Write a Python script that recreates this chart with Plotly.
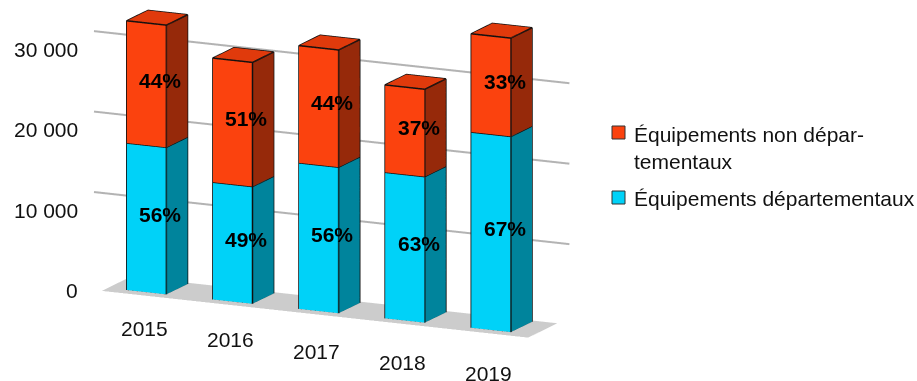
import plotly.graph_objects as go

years = ["2015", "2016", "2017", "2018", "2019"]
dept = [18270, 14570, 18150, 18150, 24320]
non_dept = [15190, 15430, 14570, 10860, 12220]
pct_dept = ["56%", "49%", "56%", "63%", "67%"]
pct_non = ["44%", "51%", "44%", "37%", "33%"]
z_ticks = [0, 10000, 20000, 30000]
z_tick_labels = ["0", "10 000", "20 000", "30 000"]
series_dept = "Équipements départementaux"
series_non = "Équipements non dépar-<br>tementaux"

BW, BD, YMAX = 0.46, 0.52, 0.62
YF = -0.1
YTOP = 0.72
FONT = "Liberation Sans, Arial, sans-serif"

def bars(bottoms, tops, front, side, top):
    X, Y, Z, I, J, K, C = [], [], [], [], [], [], []
    ex, ey, ez = [], [], []
    for n, (b, t) in enumerate(zip(bottoms, tops)):
        x0, x1 = n + .5 - BW / 2, n + .5 + BW / 2
        y0, y1 = .05, .05 + BD
        o = len(X)
        for z in (b, t):
            for x, y in ((x0, y0), (x1, y0), (x1, y1), (x0, y1)):
                X.append(x); Y.append(y); Z.append(z)
        quads = [((0, 1, 5, 4), front), ((1, 2, 6, 5), side), ((4, 5, 6, 7), top),
                 ((2, 3, 7, 6), side), ((3, 0, 4, 7), side), ((0, 3, 2, 1), side)]
        for (a, c, d, e), col in quads:
            I += [o + a, o + a]; J += [o + c, o + d]; K += [o + d, o + e]; C += [col, col]
        for path in ([(x0,y0,t),(x1,y0,t),(x1,y1,t),(x0,y1,t),(x0,y0,t),(x0,y0,b),(x1,y0,b),(x1,y0,t)],
                     [(x1,y0,b),(x1,y1,b),(x1,y1,t)]):
            for p in path:
                ex.append(p[0]); ey.append(p[1]); ez.append(p[2])
            ex.append(None); ey.append(None); ez.append(None)
    mesh = go.Mesh3d(x=X, y=Y, z=Z, i=I, j=J, k=K, facecolor=C, flatshading=True, hoverinfo="skip",
                     lighting=dict(ambient=1, diffuse=0, specular=0, fresnel=0), showlegend=False)
    edges = go.Scatter3d(x=ex, y=ey, z=ez, mode="lines", line=dict(color="#101010", width=3),
                         hoverinfo="skip", showlegend=False)
    return [mesh, edges]

totals = [a + b for a, b in zip(dept, non_dept)]
fig = go.Figure()
fig.add_trace(go.Mesh3d(x=[0.05, 5, 5, 0.05], y=[YF, YF, YMAX, YMAX], z=[0, 0, 0, 0], i=[0, 0], j=[1, 2], k=[2, 3],
                        color="#cccccc", flatshading=True, hoverinfo="skip",
                        lighting=dict(ambient=1, diffuse=0, specular=0, fresnel=0), showlegend=False))
gx, gy, gz = [], [], []
for z in z_ticks[1:]:
    gx += [-0.38, 5.14, None]; gy += [YMAX, YMAX, None]; gz += [z, z, None]
fig.add_trace(go.Scatter3d(x=gx, y=gy, z=gz, mode="lines", line=dict(color="#b3b3b3", width=4),
                           hoverinfo="skip", showlegend=False))
for t in bars([0] * 5, dept, "#00d2f8", "#00849c", "#00b0d0"):
    fig.add_trace(t)
for t in bars(dept, totals, "#fb420e", "#96290a", "#e03a0c"):
    fig.add_trace(t)

ann = []
F = dict(family=FONT, size=21, color="#111")
B = dict(family=FONT, size=21, color="#000")
YL = .05 + BD * .65
for n in range(5):
    ann.append(dict(x=n + .5, y=YL, z=dept[n] / 2, text=f"<b>{pct_dept[n]}</b>", showarrow=False, yshift=-3, font=B))
    ann.append(dict(x=n + .5, y=YL, z=dept[n] + non_dept[n] / 2, text=f"<b>{pct_non[n]}</b>", showarrow=False, yshift=-3, font=B))
    ann.append(dict(x=n + .5, y=0, z=0, text=years[n], showarrow=False, yshift=-35 - 2 * n, font=F))
for z, lab in zip(z_ticks, z_tick_labels):
    ann.append(dict(x=-0.38, y=YMAX, z=z, text=lab, showarrow=False, xanchor="right", xshift=-14, yshift=-18, font=F))

S = 2.0
ax = dict(visible=False, showspikes=False)
fig.update_layout(
    width=917, height=381, margin=dict(l=0, r=0, t=0, b=0), paper_bgcolor="white", showlegend=False,
    scene=dict(
        domain=dict(x=[0, 0.69], y=[0, 1]),
        xaxis=dict(range=[-0.6, 5.3], **ax), yaxis=dict(range=[YF, YTOP], **ax), zaxis=dict(range=[0, 38000], **ax),
        aspectmode="manual", aspectratio=dict(x=5.9 / S, y=(YTOP - YF) / S, z=3.3 / S),
        camera=dict(eye=dict(x=0.6, y=-1.27, z=0.125), center=dict(x=0, y=0, z=-0.21), up=dict(x=0, y=0, z=1),
                    projection=dict(type="orthographic")),
        annotations=ann,
    ),
    shapes=[
        dict(type="rect", xref="paper", yref="paper", x0=612/917, x1=625/917, y0=1-139/381, y1=1-126/381,
             fillcolor="#fb420e", line=dict(color="#333", width=1)),
        dict(type="rect", xref="paper", yref="paper", x0=612/917, x1=625/917, y0=1-204/381, y1=1-191/381,
             fillcolor="#00d2f8", line=dict(color="#333", width=1)),
    ],
    annotations=[
        dict(xref="paper", yref="paper", x=632/917, y=1-148/381, text=series_non, showarrow=False, xanchor="left",
             yanchor="middle", align="left", font=F),
        dict(xref="paper", yref="paper", x=632/917, y=1-198/381, text=series_dept, showarrow=False, xanchor="left",
             yanchor="middle", align="left", font=F),
    ],
)
fig.write_html("out.html", config=dict(displayModeBar=False),
               post_script="document.body.style.margin='0';document.documentElement.style.overflow='hidden';")
